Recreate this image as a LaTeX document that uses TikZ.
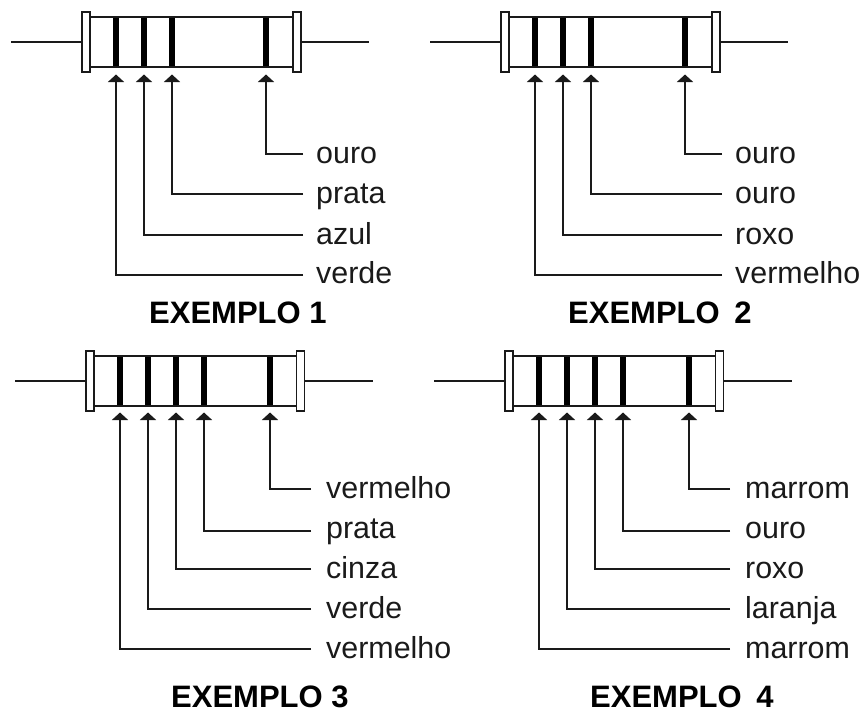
\documentclass[tikz,border=0pt]{standalone}
\usepackage{fontspec}
\setmainfont{Liberation Sans}
\usetikzlibrary{calc,arrows.meta}
\definecolor{ink}{HTML}{1A1A1A}
\tikzset{
  wire/.style={draw=ink, line width=1.5pt},
  band/.style={draw=black, line width=5.5pt},
  endcap/.style={draw=ink, fill=white, line width=1.5pt},
  lead/.style={draw=ink, line width=1.4pt, -{Triangle[length=7.5pt,width=16pt]}},
  lab/.style={anchor=base west, inner sep=0pt, text=ink, font=\fontsize{30.4}{30}\selectfont},
  title/.style={anchor=base west, inner sep=0pt, font=\fontsize{31}{31}\selectfont\bfseries},
}
% one resistor: #1 name, #2 left end of the left cap, #3 lead axis, #4 width between the caps
\newcommand{\resistor}[4]{
  \coordinate (#1L) at (#2,#3);
  \coordinate (#1R) at (#2+#4,#3);
  \draw[wire] ($(#1L)+(-71,0)$) -- (#1L);
  \draw[wire] ($(#1R)+(8,0)$) -- ($(#1R)+(76,0)$);
  \draw[wire] ($(#1L)+(8,-25)$) rectangle ($(#1R)+(0,25)$);
  \draw[endcap] ($(#1L)+(0,-30)$) rectangle ($(#1L)+(8,30)$);
  \draw[endcap] ($(#1R)+(0,-30)$) rectangle ($(#1R)+(8,30)$);
}
\begin{document}
\begin{tikzpicture}[x=1pt,y=-1pt]
  \useasboundingbox (0,0) rectangle (861,713);
  % EXEMPLO 1
  \resistor{a}{82}{42}{211}
  \foreach \x/\y/\b/\t [count=\i] in {116/275/283/verde,144/235/244/azul,172/194/203/prata,266/154/163/ouro}{
    \draw[band] (\x,18) -- (\x,66);
    \coordinate (a\i) at (\x,74.5);
    \node[lab] (la\i) at (316,\b) {\t};
    \draw[lead] (303,\y) -- (\x,\y) -- (a\i);
  }
  \node[title] (ta) at (149,323) {EXEMPLO 1};
  % EXEMPLO 2
  \resistor{b}{501}{42}{211}
  \foreach \x/\y/\b/\t [count=\i] in {535/275/283/vermelho,563/235/244/roxo,591/194/203/ouro,685/154/163/ouro}{
    \draw[band] (\x,18) -- (\x,66);
    \coordinate (b\i) at (\x,74.5);
    \node[lab] (lb\i) at (735,\b) {\t};
    \draw[lead] (722,\y) -- (\x,\y) -- (b\i);
  }
  \node[title] (tb) at (568,323) {EXEMPLO \hspace{6pt}2};
  % EXEMPLO 3
  \resistor{c}{86}{381}{210.5}
  \foreach \x/\y/\b/\t [count=\i] in {120/649/658/vermelho,148/609/618/verde,176/569/578/cinza,204/531/538/prata,270/489/498/vermelho}{
    \draw[band] (\x,357) -- (\x,405);
    \coordinate (c\i) at (\x,412.5);
    \node[lab] (lc\i) at (326,\b) {\t};
    \draw[lead] (311,\y) -- (\x,\y) -- (c\i);
  }
  \node[title] (tc) at (171,707) {EXEMPLO 3};
  % EXEMPLO 4
  \resistor{d}{505}{381}{210.5}
  \foreach \x/\y/\b/\t [count=\i] in {539/649/658/marrom,567/609/618/laranja,595/569/578/roxo,623/531/538/ouro,689/489/498/marrom}{
    \draw[band] (\x,357) -- (\x,405);
    \coordinate (d\i) at (\x,412.5);
    \node[lab] (ld\i) at (745,\b) {\t};
    \draw[lead] (730,\y) -- (\x,\y) -- (d\i);
  }
  \node[title] (td) at (590,707) {EXEMPLO \hspace{6pt}4};
\end{tikzpicture}
\end{document}
